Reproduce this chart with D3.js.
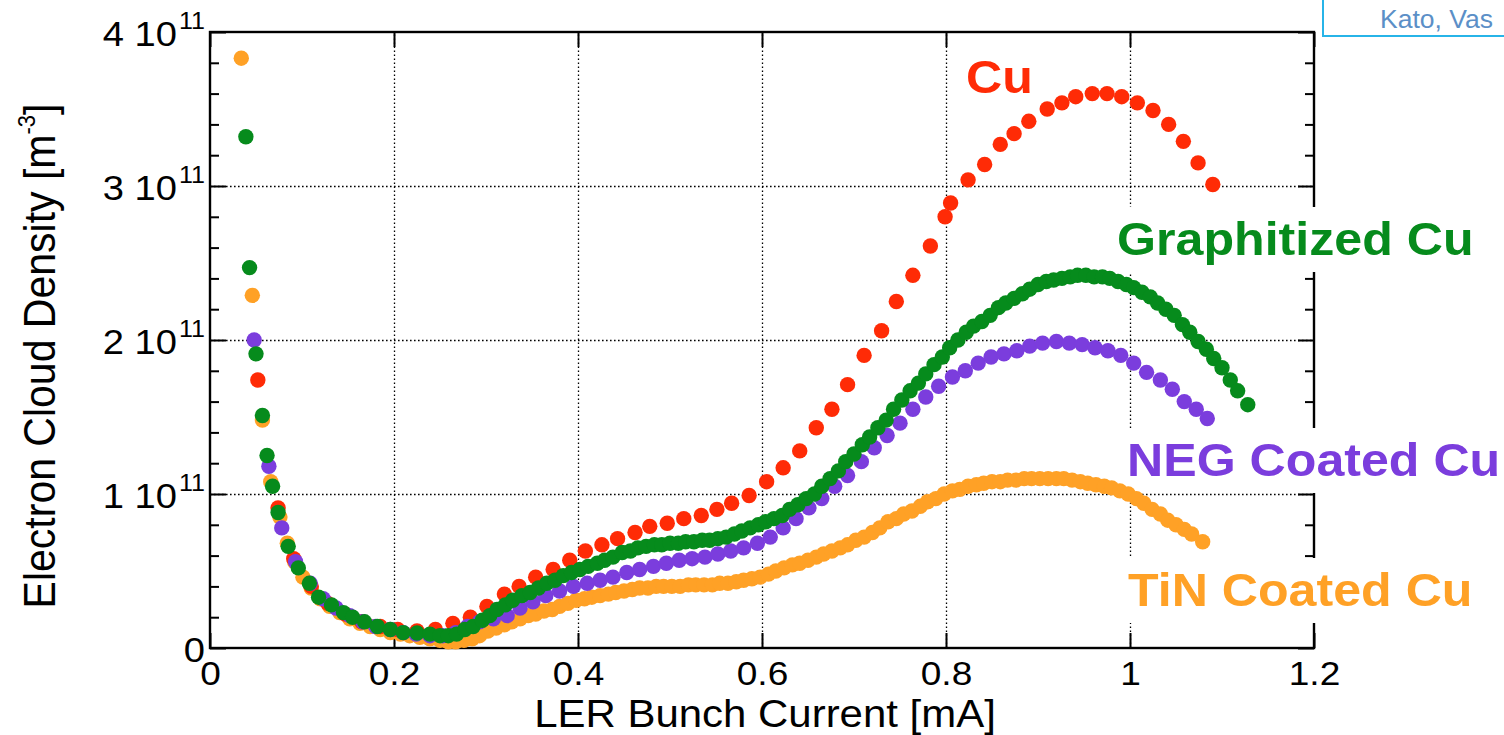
<!DOCTYPE html>
<html><head><meta charset="utf-8">
<script src="https://cdn.jsdelivr.net/npm/d3@7"></script>
<style>html,body{margin:0;padding:0;background:#fff;overflow:hidden}svg{display:block}</style>
</head><body>
<svg id="chart" width="1504" height="735"></svg>
<script>
// ---------- data (x in mA, y in units of 10^11 m^-3) ----------
const xTicks = [0, 0.2, 0.4, 0.6, 0.8, 1, 1.2];
const xTickLabels = ["0", "0.2", "0.4", "0.6", "0.8", "1", "1.2"];
const yTicks = [0, 1, 2, 3, 4];
const yTickLabels = ["0", "1 10", "2 10", "3 10", "4 10"];
const yTickExponent = "11";
const yMinorTicks = [0.2,0.4,0.6,0.8,1.2,1.4,1.6,1.8,2.2,2.4,2.6,2.8,3.2,3.4,3.6,3.8];
const seriesNames = ["TiN Coated Cu", "Cu", "NEG Coated Cu", "Graphitized Cu"];

const tinX = [0.034,0.046,0.057,0.066,0.076,0.084,0.092,0.101,0.110,0.120,0.130,0.141,0.152,0.163,0.174,0.185,0.196,0.207,0.217,0.228,0.239,0.250,
0.259,0.267,0.276,0.285,0.293,0.302,0.311,0.320,0.328,0.337,0.346,0.354,0.363,0.372,0.380,0.389,0.398,0.407,0.415,0.424,0.433,0.441,0.450,0.459,0.467,0.476,0.485,0.493,0.502,0.511,0.520,0.528,0.537,0.546,0.554,0.563,0.572,0.580,0.589,0.598,0.607,0.615,0.624,0.633,0.641,0.650,0.659,0.667,0.676,0.685,0.693,0.702,0.711,0.720,0.728,0.737,0.746,0.754,0.763,0.772,0.780,0.789,0.798,0.807,0.815,0.824,0.833,0.841,0.850,0.859,0.867,0.876,0.885,0.893,0.902,0.911,0.920,0.928,0.937,0.946,0.954,0.963,0.972,0.980,0.989,0.998,1.007,1.015,1.024,1.033,1.041,1.050,1.059,1.067,1.079];
const tinY = [3.83,2.29,1.48,1.08,0.85,0.68,0.56,0.46,0.39,0.32,0.27,0.23,0.19,0.16,0.14,0.12,0.10,0.09,0.08,0.07,0.06,0.05,
0.04,0.04,0.05,0.06,0.08,0.11,0.13,0.15,0.17,0.19,0.21,0.22,0.24,0.25,0.27,0.29,0.31,0.32,0.33,0.34,0.35,0.36,0.37,0.38,0.39,0.39,0.40,0.40,0.40,0.40,0.41,0.41,0.41,0.41,0.42,0.42,0.43,0.44,0.45,0.46,0.48,0.50,0.52,0.54,0.55,0.57,0.59,0.61,0.63,0.65,0.67,0.70,0.72,0.75,0.78,0.82,0.84,0.87,0.89,0.92,0.95,0.97,1.00,1.02,1.03,1.05,1.06,1.07,1.08,1.08,1.09,1.09,1.10,1.10,1.10,1.10,1.10,1.10,1.09,1.08,1.07,1.06,1.05,1.04,1.02,1.00,0.97,0.94,0.90,0.87,0.83,0.80,0.77,0.74,0.69];

const cuX = [0.052,0.074,0.091,0.110,0.128,0.147,0.165,0.185,0.204,0.225,0.245,0.264,0.283,0.301,0.320,0.336,0.354,0.373,0.391,0.408,0.426,0.443,0.462,0.478,0.497,0.515,0.534,0.551,0.567,0.586,0.605,0.623,0.641,0.659,0.676,0.693,0.711,0.730,0.746,0.764,0.783,0.799,0.805,0.824,0.842,0.859,0.874,0.890,0.910,0.926,0.941,0.959,0.975,0.991,1.008,1.025,1.042,1.058,1.074,1.090];
const cuY = [1.74,0.91,0.58,0.40,0.29,0.22,0.17,0.14,0.12,0.11,0.12,0.16,0.20,0.27,0.35,0.40,0.46,0.51,0.57,0.63,0.67,0.71,0.75,0.79,0.81,0.84,0.86,0.90,0.94,0.99,1.08,1.17,1.28,1.43,1.55,1.71,1.90,2.06,2.25,2.42,2.61,2.80,2.89,3.04,3.14,3.27,3.34,3.42,3.50,3.54,3.58,3.60,3.60,3.58,3.54,3.49,3.40,3.29,3.15,3.01];

const negX = [0.048,0.064,0.078,0.093,0.109,0.123,0.137,0.152,0.166,0.180,0.196,0.210,0.224,0.239,0.253,0.267,0.280,0.293,0.308,0.323,0.337,0.351,0.365,0.380,0.395,0.410,0.424,0.438,0.453,0.467,0.482,0.496,0.510,0.524,0.538,0.552,0.566,0.580,0.595,0.609,0.623,0.637,0.651,0.665,0.679,0.693,0.708,0.722,0.736,0.750,0.764,0.778,0.792,0.807,0.821,0.835,0.849,0.863,0.877,0.891,0.905,0.920,0.934,0.948,0.962,0.976,0.990,1.004,1.018,1.033,1.046,1.059,1.072,1.084];
const negY = [2.00,1.18,0.78,0.56,0.42,0.32,0.26,0.21,0.17,0.14,0.12,0.10,0.09,0.08,0.08,0.10,0.14,0.17,0.19,0.21,0.26,0.30,0.34,0.37,0.40,0.42,0.44,0.46,0.49,0.51,0.53,0.55,0.57,0.58,0.59,0.61,0.63,0.65,0.68,0.72,0.78,0.84,0.91,0.97,1.05,1.12,1.21,1.30,1.38,1.46,1.55,1.63,1.70,1.76,1.80,1.85,1.89,1.91,1.93,1.96,1.98,1.99,1.98,1.97,1.95,1.93,1.90,1.85,1.79,1.74,1.68,1.60,1.55,1.49];

const grX = [0.039,0.043,0.050,0.057,0.062,0.068,0.074,0.085,0.096,0.108,0.118,0.132,0.145,0.155,0.168,0.182,0.196,0.210,0.225,0.239,0.250,0.259,0.268,0.277,0.286,0.296,0.304,0.312,0.321,0.329,0.339,0.348,0.357,0.366,0.375,0.384,0.393,0.402,0.411,0.421,0.429,0.438,0.448,0.457,
0.465,0.474,0.483,0.491,0.500,0.509,0.517,0.526,0.535,0.543,0.552,0.561,0.570,0.578,0.587,0.596,0.604,0.613,0.622,0.630,0.639,0.648,0.657,0.665,0.674,0.683,0.691,0.700,0.709,0.717,0.726,0.735,0.743,0.752,0.761,0.770,0.778,0.787,0.796,0.804,0.813,0.822,0.830,0.839,0.848,0.857,0.865,0.874,0.883,0.891,0.900,0.909,0.917,0.926,0.935,0.943,0.952,0.961,0.970,0.978,0.987,0.996,1.004,1.013,1.022,1.030,1.039,1.048,1.057,1.065,1.074,1.083,1.091,1.100,1.109,1.117,1.128];
const grY = [3.32,2.47,1.91,1.51,1.25,1.05,0.88,0.66,0.52,0.42,0.33,0.28,0.23,0.20,0.17,0.14,0.12,0.10,0.097,0.09,0.08,0.08,0.09,0.12,0.14,0.18,0.21,0.25,0.28,0.31,0.34,0.36,0.39,0.42,0.44,0.47,0.49,0.51,0.53,0.55,0.57,0.59,0.62,0.63,
0.65,0.66,0.67,0.67,0.68,0.68,0.69,0.69,0.70,0.70,0.71,0.72,0.74,0.76,0.78,0.80,0.82,0.84,0.86,0.90,0.93,0.97,1.00,1.05,1.10,1.15,1.21,1.26,1.32,1.37,1.43,1.48,1.55,1.61,1.67,1.72,1.78,1.84,1.89,1.95,2.00,2.05,2.09,2.12,2.16,2.21,2.24,2.27,2.30,2.33,2.36,2.38,2.39,2.40,2.41,2.42,2.42,2.41,2.41,2.40,2.38,2.36,2.34,2.31,2.28,2.24,2.20,2.16,2.10,2.05,1.99,1.94,1.88,1.82,1.74,1.67,1.58];

const seriesColors = ["#ffa126", "#ff2b06", "#7b3ddd", "#068b1c"];

// ---------- layout ----------
const svg = d3.select("#chart");
const L = 210, R = 1314, T = 32, B = 648;
const x = d3.scaleLinear().domain([0, 1.2]).range([L, R]);
const y = d3.scaleLinear().domain([0, 4]).range([B, T]);
const FONT = "'Liberation Sans', Arial, Helvetica, sans-serif";
const SX = 1.09;

// gridlines
const grid = svg.append("g");
grid.append("g").attr("transform", `translate(0,${B})`)
  .call(d3.axisBottom(x).tickValues(xTicks.filter(v => v > 0 && v < 1.2)).tickSize(-(B - T)).tickFormat(""))
  .call(g => g.select(".domain").remove())
  .selectAll("line").attr("stroke", "#000").attr("stroke-width", 1.3).attr("stroke-dasharray", "1.6,2.4");
grid.append("g").attr("transform", `translate(${L},0)`)
  .call(d3.axisLeft(y).tickValues(yTicks.filter(v => v > 0 && v < 4)).tickSize(-(R - L)).tickFormat(""))
  .call(g => g.select(".domain").remove())
  .selectAll("line").attr("stroke", "#000").attr("stroke-width", 1.3).attr("stroke-dasharray", "1.6,2.4");

// axes (inward ticks)
function styleAxis(g) {
  g.select(".domain").remove();
  g.selectAll("line").attr("stroke", "#000").attr("stroke-width", 2);
}
const xAxis = svg.append("g").attr("transform", `translate(0,${B})`)
  .call(d3.axisBottom(x).tickValues(xTicks).tickSizeInner(-15).tickSizeOuter(0).tickPadding(13)
    .tickFormat((d, i) => xTickLabels[i]))
  .call(styleAxis);
xAxis.selectAll("text").attr("font-family", FONT).attr("font-size", 34).attr("fill", "#000")
  .attr("transform", `scale(${SX},1)`);
svg.append("g").attr("transform", `translate(0,${T})`)
  .call(d3.axisTop(x).tickValues(xTicks).tickSizeInner(-15).tickSizeOuter(0).tickFormat(""))
  .call(styleAxis);
svg.append("g").attr("transform", `translate(${L},0)`)
  .call(d3.axisLeft(y).tickValues(yTicks).tickSizeInner(-16).tickSizeOuter(0).tickFormat(""))
  .call(styleAxis);
svg.append("g").attr("transform", `translate(${R},0)`)
  .call(d3.axisRight(y).tickValues(yTicks).tickSizeInner(-16).tickSizeOuter(0).tickFormat(""))
  .call(styleAxis);
svg.append("g").attr("transform", `translate(${L},0)`)
  .call(d3.axisLeft(y).tickValues(yMinorTicks).tickSizeInner(-9).tickSizeOuter(0).tickFormat(""))
  .call(styleAxis);
svg.append("g").attr("transform", `translate(${R},0)`)
  .call(d3.axisRight(y).tickValues(yMinorTicks).tickSizeInner(-9).tickSizeOuter(0).tickFormat(""))
  .call(styleAxis);

// frame
svg.append("rect").attr("x", L).attr("y", T).attr("width", R - L).attr("height", B - T)
  .attr("fill", "none").attr("stroke", "#000").attr("stroke-width", 2.4);

// y tick labels with exponent
yTicks.forEach((v, i) => {
  if (v === 0) {
    svg.append("text").attr("transform", `translate(205,${y(v) + 14}) scale(${SX},1)`)
      .attr("text-anchor", "end").attr("font-family", FONT).attr("font-size", 35).text(yTickLabels[i]);
  } else {
    svg.append("text").attr("transform", `translate(177,${y(v) + 14}) scale(${SX},1)`)
      .attr("text-anchor", "end").attr("font-family", FONT).attr("font-size", 35).text(yTickLabels[i]);
    svg.append("text").attr("transform", `translate(179,${y(v) - 3}) scale(${SX},1)`)
      .attr("text-anchor", "start").attr("font-family", FONT).attr("font-size", 23).text(yTickExponent);
  }
});

// axis titles
svg.append("text").attr("transform", `translate(765,727) scale(${SX},1)`)
  .attr("text-anchor", "middle").attr("font-family", FONT).attr("font-size", 38.5)
  .text("LER Bunch Current [mA]");
const yt = svg.append("text").attr("transform", `translate(55,356) rotate(-90) scale(1,${SX})`)
  .attr("text-anchor", "middle").attr("font-family", FONT).attr("font-size", 41);
yt.append("tspan").text("Electron Cloud Density [m");
yt.append("tspan").attr("dy", -18).attr("font-size", 22).text("-3");
yt.append("tspan").attr("dy", 18).text("]");

// series labels (white boxes hide the grid / frame behind them)
const labelPos = [[1128, 606], [966, 93], [1127, 476], [1117, 255]];
seriesNames.forEach((name, i) => {
  const g = svg.append("g").attr("transform", `translate(${labelPos[i][0]},${labelPos[i][1]}) scale(${SX},1)`);
  const r = g.append("rect").attr("fill", "#fff");
  const t = g.append("text").attr("font-family", FONT).attr("font-weight", "bold").attr("font-size", 46)
    .attr("fill", seriesColors[i]).text(name);
  const bb = t.node().getBBox();
  r.attr("x", -4).attr("y", -48).attr("width", bb.width + 8).attr("height", 65);
});

// data points
const series = [[tinX, tinY], [cuX, cuY], [negX, negY], [grX, grY]];
series.forEach(([xs, ys], i) => {
  svg.append("g").selectAll("circle").data(xs.map((v, j) => [v, ys[j]])).join("circle")
    .attr("cx", d => x(d[0])).attr("cy", d => y(d[1])).attr("r", 7.7)
    .attr("fill", seriesColors[i]);
});

// citation box (top right)
svg.append("rect").attr("x", 1323).attr("y", -5).attr("width", 200).attr("height", 41)
  .attr("fill", "#fff").attr("stroke", "#27b4e8").attr("stroke-width", 2);
svg.append("text").attr("x", 1380).attr("y", 28).attr("font-family", FONT)
  .attr("font-size", 26.5).attr("fill", "#5b8fc7").text("Kato, Vas");
</script>
</body></html>
